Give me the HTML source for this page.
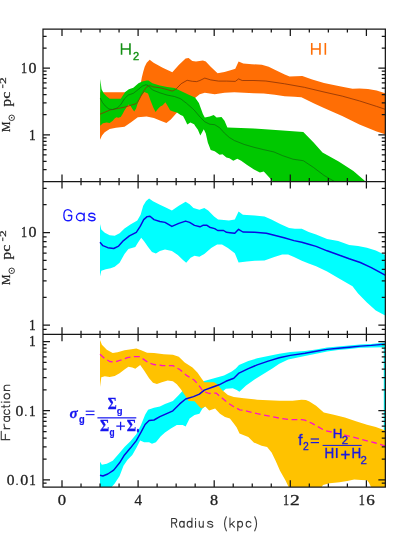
<!DOCTYPE html>
<html><head><meta charset="utf-8"><title>Gas surface density profiles</title>
<style>html,body{margin:0;padding:0;background:#fff;}body{width:407px;height:542px;overflow:hidden;font-family:"Liberation Sans",sans-serif;}</style>
</head><body>
<svg width="407" height="542" viewBox="0 0 407 542" style="display:block;will-change:transform">
<rect width="407" height="542" fill="#fff"/>
<defs><clipPath id="c1"><rect x="43.0" y="29.0" width="342.35" height="152.55"/></clipPath><clipPath id="c2"><rect x="43.0" y="181.55" width="342.35" height="152.75"/></clipPath><clipPath id="c3"><rect x="43.0" y="334.3" width="342.35" height="152.84999999999997"/></clipPath></defs>
<g clip-path="url(#c1)">
<polygon points="100.0,92.2 141.0,92.2 141.0,82.0 141.8,77.5 143.3,71.6 144.7,66.7 146.7,62.8 149.7,59.8 153.6,62.8 162.7,67.7 172.3,72.2 179.0,64.8 185.6,58.6 188.6,58.1 192.3,61.1 196.0,61.5 202.9,60.6 205.8,61.4 210.7,66.7 217.6,73.2 224.5,72.0 231.4,70.0 235.3,68.7 238.6,61.4 243.2,63.4 252.0,64.2 261.8,64.7 268.7,66.7 274.8,69.7 284.7,74.6 289.6,76.5 302.3,75.9 312.2,79.5 324.0,83.0 333.6,84.9 342.2,86.7 352.5,88.7 359.4,88.4 368.0,88.9 376.6,90.6 385.2,93.2 385.2,134.3 376.6,131.4 368.0,127.9 359.4,124.5 350.8,120.2 342.2,115.9 333.6,112.2 324.0,108.0 314.1,103.5 301.4,97.2 294.5,96.8 284.7,96.2 274.8,94.8 263.8,93.6 254.0,93.2 244.1,92.8 234.3,92.3 224.5,92.8 214.7,94.2 204.8,92.8 199.7,94.3 196.0,97.3 185.0,105.0 176.8,112.8 170.8,119.4 166.4,123.1 161.2,120.9 153.9,117.9 146.6,116.4 137.8,117.2 131.1,122.3 124.5,126.8 116.0,127.8 109.7,129.0 104.7,132.3 102.0,135.5 100.0,139.7" fill="#FF6E05"/>
<polygon points="100.2,79.1 101.6,89.2 103.8,93.6 106.8,96.5 109.7,98.8 120.8,98.8 125.2,92.1 128.9,89.2 133.3,87.7 138.5,83.3 142.2,81.5 146.6,80.6 148.5,80.6 152.4,83.2 159.8,85.5 167.2,86.9 174.5,88.1 181.9,91.4 189.3,95.1 195.0,97.4 198.9,103.1 202.9,113.9 204.8,117.6 209.7,116.4 213.7,114.9 216.6,117.6 221.5,117.0 224.5,120.8 227.4,127.4 234.3,127.8 254.0,128.5 265.0,129.2 282.7,130.6 303.3,132.1 313.6,142.4 322.5,152.4 338.7,161.6 353.4,171.0 365.6,181.4 365.6,182.0 273.0,182.0 273.0,181.4 267.7,175.8 263.8,171.5 259.9,172.5 254.0,169.6 247.1,165.0 241.2,160.7 237.3,158.7 233.3,160.7 229.4,158.2 226.4,157.6 222.5,154.2 219.6,154.8 214.7,151.3 210.7,149.9 207.8,142.4 205.8,133.6 203.8,129.3 200.3,135.6 197.9,129.7 195.2,125.9 194.1,124.2 190.4,122.4 187.3,124.5 184.9,119.6 183.0,115.9 180.6,115.1 176.9,112.6 173.2,111.6 170.1,110.2 167.7,106.1 165.4,102.2 162.7,105.2 160.3,106.5 157.8,108.9 155.6,111.9 153.5,107.9 150.5,100.6 148.0,93.6 144.4,92.1 140.7,96.5 137.5,104.0 136.1,108.6 134.2,111.6 132.4,108.9 130.6,106.1 128.7,104.5 126.9,106.7 124.4,110.4 122.6,114.1 120.7,117.0 118.3,117.8 116.4,117.2 114.6,118.4 112.7,120.8 109.7,123.0 106.6,122.4 102.9,123.3 100.2,125.8" fill="#00C800"/>
<polyline points="100.0,114.2 105.3,112.0 109.7,110.1 117.1,108.6 124.5,107.2 130.4,105.4 136.3,103.6 139.2,99.5 142.2,93.6 145.9,87.7 149.4,85.4 153.1,86.9 159.8,87.7 167.2,89.6 172.3,91.1 176.0,89.1 181.2,83.7 187.1,80.3 192.3,81.3 196.7,81.6 199.9,80.5 204.8,78.1 210.7,79.9 218.6,81.1 226.4,81.1 235.3,81.4 238.6,78.9 242.2,80.5 254.0,80.5 265.8,81.0 284.7,83.8 304.3,87.3 324.0,92.0 342.2,96.1 359.4,100.9 376.6,106.4 385.2,109.3" fill="none" stroke="#8a3206" stroke-width="0.8" stroke-linejoin="round" />
<polyline points="100.2,98.0 102.4,102.4 105.3,106.1 109.0,109.1 112.7,109.5 117.1,108.0 120.8,104.6 124.5,98.7 128.2,95.1 133.3,93.3 137.8,89.9 142.2,86.2 145.9,84.7 148.0,85.4 152.4,89.9 159.8,92.8 167.2,95.1 174.5,96.5 180.5,98.7 186.4,103.2 192.3,108.3 195.0,111.0 199.9,116.9 204.8,121.8 209.7,124.2 214.7,124.7 219.6,127.7 224.5,133.2 229.4,137.5 234.3,140.5 244.1,144.4 254.0,147.3 263.8,149.7 273.8,151.9 282.7,155.7 293.0,159.2 303.3,160.7 313.6,167.5 324.0,175.4 334.3,181.4" fill="none" stroke="#0c720c" stroke-width="0.75" stroke-linejoin="round" />
</g><g clip-path="url(#c2)">
<polygon points="100.0,224.1 101.3,229.4 104.8,232.7 109.7,235.3 114.7,235.7 119.6,233.3 124.5,228.4 130.4,224.5 137.3,220.6 140.6,214.7 143.2,205.8 146.1,200.9 149.1,198.5 153.0,201.3 159.9,204.8 165.8,207.6 171.9,210.6 178.8,205.7 185.6,201.8 189.6,204.2 193.5,208.1 199.4,209.7 204.3,208.1 208.2,210.6 214.1,216.5 218.1,219.5 224.0,219.9 228.9,220.5 234.8,219.6 238.6,211.6 242.9,214.7 254.7,215.6 264.5,216.6 271.4,219.6 280.2,224.1 289.1,228.0 294.9,228.8 301.8,228.8 308.7,232.0 316.1,234.5 327.1,238.9 338.2,241.1 349.2,244.9 358.1,246.0 366.9,247.7 375.8,250.4 385.2,254.9 385.2,315.6 375.8,310.5 366.9,302.4 358.1,293.5 352.5,286.2 338.2,278.0 327.1,271.4 316.1,266.3 308.7,263.6 301.8,260.8 294.0,256.9 288.1,254.4 282.2,254.6 274.3,256.9 264.5,260.5 254.7,260.8 246.8,261.4 238.6,262.6 234.8,253.2 227.9,248.0 222.0,244.6 217.1,244.6 211.2,248.0 204.3,253.9 199.4,256.8 194.5,255.8 190.6,257.8 186.2,262.7 182.7,259.8 177.8,254.9 171.9,250.9 165.0,249.5 159.9,251.0 155.9,253.6 152.0,252.0 148.1,247.1 144.1,241.2 141.2,237.8 138.2,242.2 135.3,247.1 128.4,249.1 124.5,254.0 119.6,262.8 114.7,266.7 110.7,268.3 105.8,269.3 101.3,270.7 100.0,276.6" fill="#00FFFF"/>
<polyline points="100.0,242.2 102.9,245.7 107.8,247.7 113.7,248.5 118.6,246.1 123.5,240.6 129.4,235.9 136.3,232.3 140.2,226.4 143.7,219.6 147.1,216.6 150.0,216.2 154.0,219.6 159.9,221.5 165.0,222.4 171.9,226.4 178.8,223.4 185.6,221.1 189.6,222.4 194.5,225.4 200.0,226.8 202.9,225.3 207.0,225.3 209.6,227.2 214.7,228.6 217.7,230.5 223.6,230.5 226.5,232.3 230.0,232.7 234.8,233.2 238.6,229.3 242.9,232.0 254.7,232.3 266.4,233.3 274.3,235.3 284.1,237.7 294.0,240.6 301.8,242.2 308.7,244.3 316.1,246.4 327.1,250.8 338.2,254.8 349.2,258.8 360.3,262.5 371.3,267.6 385.2,275.2" fill="none" stroke="#0a0ae0" stroke-width="1.45" stroke-linejoin="round" />
</g><g clip-path="url(#c3)">
<polygon points="100.0,461.8 101.9,464.8 106.8,463.8 112.7,460.8 118.6,454.0 124.5,447.1 130.4,441.2 136.3,434.3 141.2,424.5 145.1,414.7 148.1,409.7 154.0,407.8 159.9,406.4 165.0,403.9 172.9,400.9 178.8,395.0 182.7,390.7 190.0,386.0 204.3,380.9 214.1,378.3 224.0,375.4 231.8,371.4 235.8,368.5 239.0,364.9 248.3,361.1 257.2,358.3 268.2,356.1 279.3,353.8 290.4,352.1 305.0,350.9 316.1,349.4 327.1,347.6 338.2,346.5 349.3,345.4 360.3,344.5 371.4,343.9 385.2,342.5 385.2,487.0 383.8,487.0 383.8,347.2 371.4,347.6 360.3,347.8 349.3,348.9 338.2,350.1 327.1,351.6 316.1,353.8 305.0,356.0 288.2,359.4 279.3,363.8 272.7,368.2 263.8,373.8 254.9,379.3 246.1,385.5 239.4,391.8 236.7,390.1 232.8,388.2 225.9,388.7 202.3,408.8 199.4,413.7 194.5,415.1 189.6,418.6 185.6,426.5 182.7,424.9 176.8,424.9 170.9,428.5 165.0,432.4 160.8,436.3 155.9,442.2 152.0,443.7 149.1,442.2 144.1,442.2 140.2,440.6 136.3,448.1 132.3,455.0 127.4,459.9 123.5,465.8 119.6,476.0 114.7,483.4 111.7,487.0 100.0,487.0" fill="#00FFFF"/>
<polygon points="100.0,339.9 101.9,344.8 106.8,349.7 112.7,353.1 117.6,352.3 124.5,350.3 131.4,349.2 136.3,348.4 141.2,350.3 147.1,352.7 154.0,353.1 163.8,354.3 172.9,354.7 178.8,356.7 184.7,362.6 192.5,367.5 197.4,372.4 201.4,378.3 204.3,382.3 214.1,382.3 217.1,384.2 222.0,390.1 227.9,395.0 233.8,397.0 243.9,398.2 257.2,399.7 279.3,400.8 292.6,400.8 301.5,399.7 305.9,400.0 309.4,401.4 316.1,405.8 323.8,412.5 333.8,414.7 344.9,417.4 355.9,421.3 367.0,424.7 375.8,426.9 385.2,430.4 385.2,487.0 371.0,487.0 369.0,482.7 367.0,480.2 361.1,479.9 354.2,479.6 347.3,481.1 339.5,482.3 329.7,483.3 323.0,485.0 321.7,487.0 288.6,487.0 285.4,480.3 280.0,470.8 275.5,460.6 271.6,452.5 267.1,446.9 261.6,445.8 253.8,442.5 248.3,436.9 239.5,433.5 236.7,427.5 233.8,423.5 229.9,418.6 225.0,417.0 220.0,413.7 215.1,408.4 209.2,410.4 205.3,406.4 201.4,408.4 199.4,406.8 194.5,401.3 188.6,400.9 184.7,395.0 180.7,389.1 176.8,384.2 172.9,381.3 167.7,380.6 161.8,382.2 156.9,384.1 153.0,382.8 149.1,378.2 144.1,370.4 140.2,364.9 135.3,368.8 132.3,367.4 128.4,366.8 124.5,369.4 119.6,373.3 114.7,375.9 109.7,376.9 104.8,376.3 101.3,377.3 100.0,387.1" fill="#FFC200"/>
<polyline points="100.0,475.2 102.9,476.0 107.8,474.0 113.7,470.1 119.6,462.8 124.5,454.9 130.4,448.1 136.3,440.6 141.2,431.9 145.1,424.5 149.1,420.5 154.0,420.0 159.9,416.6 165.0,414.3 172.9,410.8 179.7,403.9 185.6,399.0 193.5,396.6 199.4,394.1 204.3,390.1 212.2,387.2 219.1,384.8 225.9,381.3 233.8,378.3 239.0,373.1 248.3,368.7 257.2,364.9 268.2,361.1 279.3,357.8 290.4,355.4 305.0,353.2 316.1,351.2 327.1,349.4 338.2,348.3 349.3,347.2 360.3,346.1 371.4,345.4 385.2,344.1" fill="none" stroke="#0a0ae0" stroke-width="1.45" stroke-linejoin="round" />
<polyline points="100.0,354.3 104.8,358.6 109.7,361.5 114.7,362.1 120.6,360.2 127.4,357.6 134.3,356.6 139.2,356.6 144.1,359.6 149.1,363.1 154.0,364.5 161.8,365.5 172.9,365.6 179.7,369.5 186.6,375.4 194.5,380.3 199.4,386.2 203.3,391.5 209.2,393.5 216.1,393.1 222.0,398.0 227.9,402.9 233.8,406.8 239.7,409.8 243.9,410.3 257.2,413.7 268.2,415.9 279.3,418.1 290.4,419.7 301.5,419.7 305.0,420.2 311.6,423.1 318.3,426.9 324.9,430.6 333.8,432.4 344.9,435.1 355.9,437.9 367.0,440.8 375.8,443.0 385.2,446.2" fill="none" stroke="#ff10c8" stroke-width="1.3" stroke-linejoin="round" stroke-dasharray="5.8 3.5"/>
</g>
<path d="M43.0 29.0H385.35V487.15H43.0ZM43.00 181.55L385.35 181.55M43.00 334.30L385.35 334.30M62.00 29.00L62.00 36.00M62.00 487.15L62.00 480.15M62.00 174.55L62.00 188.55M62.00 327.30L62.00 341.30M81.03 29.00L81.03 32.60M81.03 487.15L81.03 483.55M81.03 177.95L81.03 185.15M81.03 330.70L81.03 337.90M100.05 29.00L100.05 32.60M100.05 487.15L100.05 483.55M100.05 177.95L100.05 185.15M100.05 330.70L100.05 337.90M119.07 29.00L119.07 32.60M119.07 487.15L119.07 483.55M119.07 177.95L119.07 185.15M119.07 330.70L119.07 337.90M138.10 29.00L138.10 36.00M138.10 487.15L138.10 480.15M138.10 174.55L138.10 188.55M138.10 327.30L138.10 341.30M157.12 29.00L157.12 32.60M157.12 487.15L157.12 483.55M157.12 177.95L157.12 185.15M157.12 330.70L157.12 337.90M176.15 29.00L176.15 32.60M176.15 487.15L176.15 483.55M176.15 177.95L176.15 185.15M176.15 330.70L176.15 337.90M195.17 29.00L195.17 32.60M195.17 487.15L195.17 483.55M195.17 177.95L195.17 185.15M195.17 330.70L195.17 337.90M214.20 29.00L214.20 36.00M214.20 487.15L214.20 480.15M214.20 174.55L214.20 188.55M214.20 327.30L214.20 341.30M233.22 29.00L233.22 32.60M233.22 487.15L233.22 483.55M233.22 177.95L233.22 185.15M233.22 330.70L233.22 337.90M252.25 29.00L252.25 32.60M252.25 487.15L252.25 483.55M252.25 177.95L252.25 185.15M252.25 330.70L252.25 337.90M271.27 29.00L271.27 32.60M271.27 487.15L271.27 483.55M271.27 177.95L271.27 185.15M271.27 330.70L271.27 337.90M290.30 29.00L290.30 36.00M290.30 487.15L290.30 480.15M290.30 174.55L290.30 188.55M290.30 327.30L290.30 341.30M309.32 29.00L309.32 32.60M309.32 487.15L309.32 483.55M309.32 177.95L309.32 185.15M309.32 330.70L309.32 337.90M328.35 29.00L328.35 32.60M328.35 487.15L328.35 483.55M328.35 177.95L328.35 185.15M328.35 330.70L328.35 337.90M347.38 29.00L347.38 32.60M347.38 487.15L347.38 483.55M347.38 177.95L347.38 185.15M347.38 330.70L347.38 337.90M366.40 29.00L366.40 36.00M366.40 487.15L366.40 480.15M366.40 174.55L366.40 188.55M366.40 327.30L366.40 341.30M43.00 169.68L46.60 169.68M385.35 169.68L381.75 169.68M43.00 161.34L46.60 161.34M385.35 161.34L381.75 161.34M43.00 154.88L46.60 154.88M385.35 154.88L381.75 154.88M43.00 149.60L46.60 149.60M385.35 149.60L381.75 149.60M43.00 145.13L46.60 145.13M385.35 145.13L381.75 145.13M43.00 141.26L46.60 141.26M385.35 141.26L381.75 141.26M43.00 137.85L46.60 137.85M385.35 137.85L381.75 137.85M43.00 134.80L50.00 134.80M385.35 134.80L378.35 134.80M43.00 114.72L46.60 114.72M385.35 114.72L381.75 114.72M43.00 102.98L46.60 102.98M385.35 102.98L381.75 102.98M43.00 94.64L46.60 94.64M385.35 94.64L381.75 94.64M43.00 88.18L46.60 88.18M385.35 88.18L381.75 88.18M43.00 82.90L46.60 82.90M385.35 82.90L381.75 82.90M43.00 78.43L46.60 78.43M385.35 78.43L381.75 78.43M43.00 74.56L46.60 74.56M385.35 74.56L381.75 74.56M43.00 71.15L46.60 71.15M385.35 71.15L381.75 71.15M43.00 68.10L50.00 68.10M385.35 68.10L378.35 68.10M43.00 48.02L46.60 48.02M385.35 48.02L381.75 48.02M43.00 36.28L46.60 36.28M385.35 36.28L381.75 36.28M43.00 329.39L46.60 329.39M385.35 329.39L381.75 329.39M43.00 325.15L50.00 325.15M385.35 325.15L378.35 325.15M43.00 297.27L46.60 297.27M385.35 297.27L381.75 297.27M43.00 280.97L46.60 280.97M385.35 280.97L381.75 280.97M43.00 269.40L46.60 269.40M385.35 269.40L381.75 269.40M43.00 260.43L46.60 260.43M385.35 260.43L381.75 260.43M43.00 253.09L46.60 253.09M385.35 253.09L381.75 253.09M43.00 246.89L46.60 246.89M385.35 246.89L381.75 246.89M43.00 241.52L46.60 241.52M385.35 241.52L381.75 241.52M43.00 236.79L46.60 236.79M385.35 236.79L381.75 236.79M43.00 232.55L50.00 232.55M385.35 232.55L378.35 232.55M43.00 204.67L46.60 204.67M385.35 204.67L381.75 204.67M43.00 188.37L46.60 188.37M385.35 188.37L381.75 188.37M43.00 483.07L46.60 483.07M385.35 483.07L381.75 483.07M43.00 479.90L50.00 479.90M385.35 479.90L378.35 479.90M43.00 459.07L46.60 459.07M385.35 459.07L381.75 459.07M43.00 446.88L46.60 446.88M385.35 446.88L381.75 446.88M43.00 438.24L46.60 438.24M385.35 438.24L381.75 438.24M43.00 431.53L46.60 431.53M385.35 431.53L381.75 431.53M43.00 426.05L46.60 426.05M385.35 426.05L381.75 426.05M43.00 421.42L46.60 421.42M385.35 421.42L381.75 421.42M43.00 417.41L46.60 417.41M385.35 417.41L381.75 417.41M43.00 413.87L46.60 413.87M385.35 413.87L381.75 413.87M43.00 410.70L50.00 410.70M385.35 410.70L378.35 410.70M43.00 389.87L46.60 389.87M385.35 389.87L381.75 389.87M43.00 377.68L46.60 377.68M385.35 377.68L381.75 377.68M43.00 369.04L46.60 369.04M385.35 369.04L381.75 369.04M43.00 362.33L46.60 362.33M385.35 362.33L381.75 362.33M43.00 356.85L46.60 356.85M385.35 356.85L381.75 356.85M43.00 352.22L46.60 352.22M385.35 352.22L381.75 352.22M43.00 348.21L46.60 348.21M385.35 348.21L381.75 348.21M43.00 344.67L46.60 344.67M385.35 344.67L381.75 344.67M43.00 341.50L50.00 341.50M385.35 341.50L378.35 341.50" fill="none" stroke="#161616" stroke-width="1.25" stroke-linecap="butt"/>
<path d="M121.55 43.2V54.8M129.95 43.2V54.8M121.5 49.0H130" fill="none" stroke="#128f12" stroke-width="1.6"/>
<text transform="translate(133.02,60.23) scale(1.068,1)" font-family="Liberation Sans, sans-serif" font-weight="normal" font-style="normal" font-size="10.39" fill="#128f12" stroke="#128f12" stroke-width="0.35">2</text>
<path d="M311.75 43.1V54.8M319.95 43.1V54.8M311.7 49.0H320M325.35 43.1V54.8" fill="none" stroke="#FF6E05" stroke-width="1.6"/>
<path d="M171.65 527.20L171.65 518.50L174.47 518.50C176.04 518.50 176.75 519.37 176.75 520.68C176.75 521.98 176.04 522.85 174.47 522.85L171.65 522.85M174.47 522.85L176.75 527.20M184.15 524.29C184.15 522.68 183.12 521.37 181.85 521.37C180.58 521.37 179.55 522.68 179.55 524.29C179.55 525.90 180.58 527.20 181.85 527.20C183.12 527.20 184.15 525.90 184.15 524.29M184.15 521.37L184.15 527.20M191.95 524.29C191.95 522.68 190.88 521.37 189.55 521.37C188.22 521.37 187.15 522.68 187.15 524.29C187.15 525.90 188.22 527.20 189.55 527.20C190.88 527.20 191.95 525.90 191.95 524.29M191.95 517.98L191.95 527.20M195.55 527.20L195.55 521.37M195.55 519.11L195.55 518.50M199.25 521.37L199.25 524.94C199.25 526.42 199.98 527.20 201.21 527.20C202.38 527.20 203.25 526.33 203.25 524.76M203.25 521.37L203.25 527.20M212.57 522.59C212.21 521.72 211.29 521.37 210.10 521.37C208.63 521.37 207.72 521.89 207.72 522.85C207.72 523.72 208.54 524.07 210.10 524.29C211.66 524.50 212.85 524.85 212.85 525.72C212.85 526.68 211.66 527.20 210.10 527.20C208.73 527.20 207.72 526.85 207.35 525.90M226.35 516.76C225.15 518.94 224.55 521.11 224.55 523.72C224.55 526.33 225.15 528.50 226.35 530.85M229.95 517.98L229.95 527.20M234.20 521.37L229.95 525.29M231.59 523.89L234.45 527.20M242.55 524.29C242.55 522.68 241.48 521.37 240.15 521.37C238.82 521.37 237.75 522.68 237.75 524.29C237.75 525.90 238.82 527.20 240.15 527.20C241.48 527.20 242.55 525.90 242.55 524.29M237.75 521.37L237.75 530.68M250.95 522.85C250.55 521.89 249.75 521.37 248.63 521.37C247.11 521.37 246.15 522.68 246.15 524.29C246.15 525.90 247.11 527.20 248.63 527.20C249.75 527.20 250.55 526.68 250.95 525.72M254.75 516.76C255.95 518.94 256.55 521.11 256.55 523.72C256.55 526.33 255.95 528.50 254.75 530.85" fill="none" stroke="#383838" stroke-width="1.1" stroke-linecap="round" stroke-linejoin="round"/>
<path d="M9.75 439.65L1.25 439.65L1.25 431.25M5.33 439.65L5.33 434.23M4.05 428.65L9.75 428.65M6.69 428.65C5.07 428.37 4.05 426.77 4.05 423.95M6.90 416.55C5.33 416.55 4.05 417.67 4.05 419.05C4.05 420.43 5.33 421.55 6.90 421.55C8.48 421.55 9.75 420.43 9.75 419.05C9.75 417.67 8.48 416.55 6.90 416.55M4.05 416.55L9.75 416.55M5.50 409.75C4.56 410.14 4.05 410.93 4.05 412.02C4.05 413.51 5.33 414.45 6.90 414.45C8.47 414.45 9.75 413.51 9.75 412.02C9.75 410.93 9.24 410.14 8.30 409.75M1.50 406.68L8.30 406.68C9.32 406.68 9.75 406.15 9.75 404.95M4.05 407.75L4.05 405.08M9.75 402.10L4.05 402.10M1.84 402.10L1.25 402.10M6.90 393.65C5.33 393.65 4.05 394.84 4.05 396.30C4.05 397.76 5.33 398.95 6.90 398.95C8.48 398.95 9.75 397.76 9.75 396.30C9.75 394.84 8.48 393.65 6.90 393.65M4.05 390.55L9.75 390.55M6.43 390.55C4.90 390.55 4.05 389.39 4.05 387.85C4.05 386.21 4.82 385.25 6.26 385.25L9.75 385.25" fill="none" stroke="#383838" stroke-width="1.1" stroke-linecap="round" stroke-linejoin="round"/>
<path d="M71.50 212.01C70.60 210.33 69.47 209.55 67.90 209.55C65.31 209.55 63.85 212.01 63.85 215.15C63.85 218.29 65.31 220.75 67.90 220.75C70.15 220.75 71.72 219.63 71.72 217.39L71.72 215.49L68.35 215.49M84.15 217.00C84.15 214.93 82.43 213.25 80.30 213.25C78.17 213.25 76.45 214.93 76.45 217.00C76.45 219.07 78.17 220.75 80.30 220.75C82.43 220.75 84.15 219.07 84.15 217.00M84.15 213.25L84.15 220.75M94.81 214.81C94.36 213.69 93.22 213.25 91.75 213.25C89.94 213.25 88.80 213.92 88.80 215.15C88.80 216.27 89.82 216.72 91.75 217.00C93.68 217.28 95.15 217.73 95.15 218.85C95.15 220.08 93.68 220.75 91.75 220.75C90.05 220.75 88.80 220.30 88.35 219.07" fill="none" stroke="#1616ff" stroke-width="1.3" stroke-linecap="round" stroke-linejoin="round"/>
<text transform="translate(9.57,131.93) rotate(-90) scale(0.944,1)" font-family="Liberation Serif, serif" font-weight="normal" font-style="normal" font-size="12.44" fill="#222" stroke="#222" stroke-width="0.25">M</text>
<circle cx="11.7" cy="117.8" r="2.75" fill="none" stroke="#222" stroke-width="0.9"/><circle cx="11.7" cy="117.8" r="0.75" fill="#222"/>
<text transform="translate(10.85,106.50) rotate(-90) scale(1.000,1)" font-family="Liberation Serif, serif" font-weight="normal" font-style="normal" font-size="15.16" fill="#222" stroke="#222" stroke-width="0.25">p</text>
<text transform="translate(9.55,98.67) rotate(-90) scale(1.259,1)" font-family="Liberation Serif, serif" font-weight="normal" font-style="normal" font-size="12.60" fill="#222" stroke="#222" stroke-width="0.25">c</text>
<rect x="2.3" y="84.5" width="1.0" height="3.6" fill="#222"/>
<text transform="translate(5.70,84.11) rotate(-90) scale(1.789,1)" font-family="Liberation Serif, serif" font-weight="normal" font-style="normal" font-size="7.55" fill="#222" stroke="#222" stroke-width="0.2">2</text>
<text transform="translate(9.57,284.93) rotate(-90) scale(0.944,1)" font-family="Liberation Serif, serif" font-weight="normal" font-style="normal" font-size="12.44" fill="#222" stroke="#222" stroke-width="0.25">M</text>
<circle cx="11.7" cy="270.8" r="2.75" fill="none" stroke="#222" stroke-width="0.9"/><circle cx="11.7" cy="270.8" r="0.75" fill="#222"/>
<text transform="translate(10.85,259.50) rotate(-90) scale(1.000,1)" font-family="Liberation Serif, serif" font-weight="normal" font-style="normal" font-size="15.16" fill="#222" stroke="#222" stroke-width="0.25">p</text>
<text transform="translate(9.55,251.67) rotate(-90) scale(1.259,1)" font-family="Liberation Serif, serif" font-weight="normal" font-style="normal" font-size="12.60" fill="#222" stroke="#222" stroke-width="0.25">c</text>
<rect x="2.3" y="237.5" width="1.0" height="3.6" fill="#222"/>
<text transform="translate(5.70,237.11) rotate(-90) scale(1.789,1)" font-family="Liberation Serif, serif" font-weight="normal" font-style="normal" font-size="7.55" fill="#222" stroke="#222" stroke-width="0.2">2</text>
<text transform="translate(20.88,72.90) scale(0.839,1)" font-family="Liberation Serif, serif" font-weight="normal" font-style="normal" font-size="14.55" fill="#222" stroke="#222" stroke-width="0.3">1</text>
<text transform="translate(28.45,72.85) scale(1.102,1)" font-family="Liberation Serif, serif" font-weight="normal" font-style="normal" font-size="14.52" fill="#222" stroke="#222" stroke-width="0.3">0</text>
<text transform="translate(20.88,237.40) scale(0.839,1)" font-family="Liberation Serif, serif" font-weight="normal" font-style="normal" font-size="14.55" fill="#222" stroke="#222" stroke-width="0.3">1</text>
<text transform="translate(28.45,237.35) scale(1.102,1)" font-family="Liberation Serif, serif" font-weight="normal" font-style="normal" font-size="14.52" fill="#222" stroke="#222" stroke-width="0.3">0</text>
<text transform="translate(28.98,139.60) scale(0.917,1)" font-family="Liberation Serif, serif" font-weight="normal" font-style="normal" font-size="14.55" fill="#222" stroke="#222" stroke-width="0.3">1</text>
<text transform="translate(28.98,329.90) scale(0.917,1)" font-family="Liberation Serif, serif" font-weight="normal" font-style="normal" font-size="14.55" fill="#222" stroke="#222" stroke-width="0.3">1</text>
<text transform="translate(28.98,346.30) scale(0.917,1)" font-family="Liberation Serif, serif" font-weight="normal" font-style="normal" font-size="14.55" fill="#222" stroke="#222" stroke-width="0.3">1</text>
<text transform="translate(15.46,415.55) scale(1.086,1)" font-family="Liberation Serif, serif" font-weight="normal" font-style="normal" font-size="14.52" fill="#222" stroke="#222" stroke-width="0.3">0</text>
<text transform="translate(24.19,415.51) scale(0.979,1)" font-family="Liberation Serif, serif" font-weight="normal" font-style="normal" font-size="12.77" fill="#222" stroke="#222" stroke-width="0.2">.</text>
<text transform="translate(29.11,415.60) scale(0.897,1)" font-family="Liberation Serif, serif" font-weight="normal" font-style="normal" font-size="14.55" fill="#222" stroke="#222" stroke-width="0.3">1</text>
<text transform="translate(6.67,484.95) scale(1.070,1)" font-family="Liberation Serif, serif" font-weight="normal" font-style="normal" font-size="14.52" fill="#222" stroke="#222" stroke-width="0.3">0</text>
<text transform="translate(15.49,484.91) scale(0.979,1)" font-family="Liberation Serif, serif" font-weight="normal" font-style="normal" font-size="12.77" fill="#222" stroke="#222" stroke-width="0.2">.</text>
<text transform="translate(20.15,484.95) scale(1.102,1)" font-family="Liberation Serif, serif" font-weight="normal" font-style="normal" font-size="14.52" fill="#222" stroke="#222" stroke-width="0.3">0</text>
<text transform="translate(29.21,485.00) scale(0.897,1)" font-family="Liberation Serif, serif" font-weight="normal" font-style="normal" font-size="14.55" fill="#222" stroke="#222" stroke-width="0.3">1</text>
<text transform="translate(57.82,504.95) scale(1.151,1)" font-family="Liberation Serif, serif" font-weight="normal" font-style="normal" font-size="14.52" fill="#222" stroke="#222" stroke-width="0.3">0</text>
<text transform="translate(134.45,505.05) scale(1.020,1)" font-family="Liberation Serif, serif" font-weight="normal" font-style="normal" font-size="14.75" fill="#222" stroke="#222" stroke-width="0.3">4</text>
<text transform="translate(210.04,504.91) scale(1.130,1)" font-family="Liberation Serif, serif" font-weight="normal" font-style="normal" font-size="14.37" fill="#222" stroke="#222" stroke-width="0.3">8</text>
<text transform="translate(282.98,505.00) scale(0.839,1)" font-family="Liberation Serif, serif" font-weight="normal" font-style="normal" font-size="14.55" fill="#222" stroke="#222" stroke-width="0.3">1</text>
<text transform="translate(289.97,505.05) scale(1.332,1)" font-family="Liberation Serif, serif" font-weight="normal" font-style="normal" font-size="14.64" fill="#222" stroke="#222" stroke-width="0.3">2</text>
<text transform="translate(358.68,505.00) scale(0.839,1)" font-family="Liberation Serif, serif" font-weight="normal" font-style="normal" font-size="14.55" fill="#222" stroke="#222" stroke-width="0.3">1</text>
<text transform="translate(366.32,504.91) scale(1.184,1)" font-family="Liberation Serif, serif" font-weight="normal" font-style="normal" font-size="14.42" fill="#222" stroke="#222" stroke-width="0.3">6</text>
<text transform="translate(69.57,417.92) scale(0.997,1)" font-family="Liberation Serif, serif" font-weight="bold" font-style="italic" font-size="15.35" fill="#1616f0" stroke="#1616f0" stroke-width="0.25">σ</text>
<text transform="translate(79.03,423.17) scale(0.931,1)" font-family="Liberation Sans, sans-serif" font-weight="bold" font-style="normal" font-size="10.00" fill="#1616f0" stroke="#1616f0" stroke-width="0.2">g</text>
<rect x="85.7" y="410.65" width="8.8" height="1.15" fill="#1616f0"/><rect x="85.7" y="414.05" width="8.8" height="1.15" fill="#1616f0"/>
<rect x="97.4" y="417.25" width="38.9" height="1.2" fill="#1616f0"/>
<text transform="translate(107.80,408.65) scale(0.783,1)" font-family="Liberation Serif, serif" font-weight="bold" font-style="normal" font-size="17.56" fill="#1616f0" stroke="#1616f0" stroke-width="0.3">Σ</text>
<text transform="translate(116.82,413.66) scale(0.990,1)" font-family="Liberation Sans, sans-serif" font-weight="bold" font-style="normal" font-size="9.60" fill="#1616f0" stroke="#1616f0" stroke-width="0.2">g</text>
<text transform="translate(99.99,430.85) scale(0.802,1)" font-family="Liberation Serif, serif" font-weight="bold" font-style="normal" font-size="17.56" fill="#1616f0" stroke="#1616f0" stroke-width="0.3">Σ</text>
<text transform="translate(109.57,436.07) scale(0.832,1)" font-family="Liberation Sans, sans-serif" font-weight="bold" font-style="normal" font-size="10.00" fill="#1616f0" stroke="#1616f0" stroke-width="0.2">g</text>
<path d="M116.3 426H124.9M120.6 421.7V430.3" stroke="#1616f0" stroke-width="1.25" fill="none"/>
<text transform="translate(126.68,430.85) scale(0.822,1)" font-family="Liberation Serif, serif" font-weight="bold" font-style="normal" font-size="17.56" fill="#1616f0" stroke="#1616f0" stroke-width="0.3">Σ</text>
<text transform="translate(136.85,434.54) scale(0.569,1)" font-family="Liberation Serif, serif" font-weight="bold" font-style="normal" font-size="8.48" fill="#1616f0" stroke="#1616f0" stroke-width="0.5">*</text>
<text transform="translate(298.27,445.40) scale(0.974,1)" font-family="Liberation Sans, sans-serif" font-weight="normal" font-style="normal" font-size="15.50" fill="#1a1ae0" stroke="#1a1ae0" stroke-width="0.4">f</text>
<text transform="translate(302.93,450.45) scale(1.015,1)" font-family="Liberation Sans, sans-serif" font-weight="normal" font-style="normal" font-size="10.18" fill="#1a1ae0" stroke="#1a1ae0" stroke-width="0.3">2</text>
<rect x="310.7" y="438.4" width="8.3" height="1.2" fill="#1a1ae0"/><rect x="310.7" y="442.0" width="8.3" height="1.2" fill="#1a1ae0"/>
<rect x="322.6" y="444.9" width="39.1" height="1.0" fill="#1a1ae0"/>
<text transform="translate(332.69,437.50) scale(0.984,1)" font-family="Liberation Sans, sans-serif" font-weight="normal" font-style="normal" font-size="13.67" fill="#1a1ae0" stroke="#1a1ae0" stroke-width="0.4">H</text>
<text transform="translate(341.78,443.55) scale(1.139,1)" font-family="Liberation Sans, sans-serif" font-weight="normal" font-style="normal" font-size="10.04" fill="#1a1ae0" stroke="#1a1ae0" stroke-width="0.3">2</text>
<text transform="translate(324.49,457.70) scale(0.953,1)" font-family="Liberation Sans, sans-serif" font-weight="normal" font-style="normal" font-size="14.11" fill="#1a1ae0" stroke="#1a1ae0" stroke-width="0.4">H</text>
<text transform="translate(334.50,457.80) scale(1.126,1)" font-family="Liberation Sans, sans-serif" font-weight="normal" font-style="normal" font-size="14.40" fill="#1a1ae0" stroke="#1a1ae0" stroke-width="0.2">I</text>
<text transform="translate(340.37,459.57) scale(1.010,1)" font-family="Liberation Sans, sans-serif" font-weight="normal" font-style="normal" font-size="17.35" fill="#1a1ae0" stroke="#1a1ae0" stroke-width="0.3">+</text>
<text transform="translate(351.59,457.70) scale(0.953,1)" font-family="Liberation Sans, sans-serif" font-weight="normal" font-style="normal" font-size="14.11" fill="#1a1ae0" stroke="#1a1ae0" stroke-width="0.4">H</text>
<text transform="translate(360.58,463.85) scale(1.049,1)" font-family="Liberation Sans, sans-serif" font-weight="normal" font-style="normal" font-size="10.90" fill="#1a1ae0" stroke="#1a1ae0" stroke-width="0.3">2</text>
</svg>
</body></html>
